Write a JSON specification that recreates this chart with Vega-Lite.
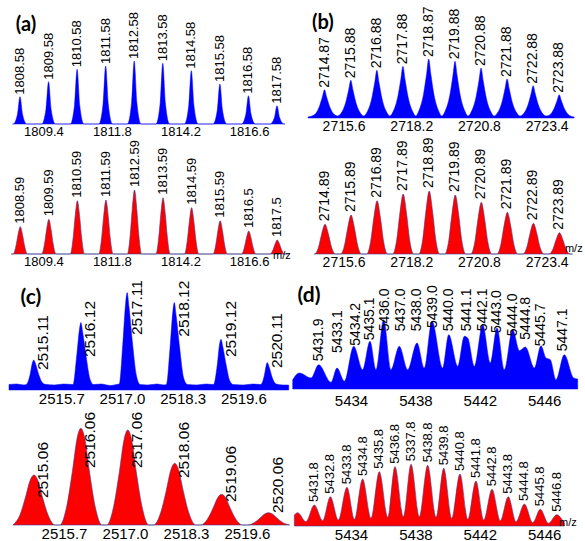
{
"$schema": "https://vega.github.io/schema/vega-lite/v6.json",
"padding": {"left": 8, "top": 0, "right": 0, "bottom": 0},
"background": "white",
"columns": 2,
"spacing": {"row": 16, "column": 0},
"bounds": "flush",
"datasets": {
"a1": [{"x":1808.32,"y":0},
{"x":1808.34,"y":0},{"x":1808.49,"y":9.6},{"x":1808.58,"y":27.3},{"x":1808.67,"y":9.6},{"x":1808.82,"y":0},
{"x":1809.34,"y":0},{"x":1809.49,"y":14.8},{"x":1809.58,"y":42.3},{"x":1809.67,"y":14.8},{"x":1809.82,"y":0},
{"x":1810.34,"y":0},{"x":1810.49,"y":19.1},{"x":1810.58,"y":54.7},{"x":1810.67,"y":19.1},{"x":1810.82,"y":0},
{"x":1811.34,"y":0},{"x":1811.49,"y":20.3},{"x":1811.58,"y":58},{"x":1811.67,"y":20.3},{"x":1811.82,"y":0},
{"x":1812.34,"y":0},{"x":1812.49,"y":22.1},{"x":1812.58,"y":63},{"x":1812.67,"y":22.1},{"x":1812.82,"y":0},
{"x":1813.34,"y":0},{"x":1813.49,"y":21.2},{"x":1813.58,"y":60.7},{"x":1813.67,"y":21.2},{"x":1813.82,"y":0},
{"x":1814.34,"y":0},{"x":1814.49,"y":18.7},{"x":1814.58,"y":53.3},{"x":1814.67,"y":18.7},{"x":1814.82,"y":0},
{"x":1815.34,"y":0},{"x":1815.49,"y":14},{"x":1815.58,"y":40},{"x":1815.67,"y":14},{"x":1815.82,"y":0},
{"x":1816.34,"y":0},{"x":1816.49,"y":9.9},{"x":1816.58,"y":28.3},{"x":1816.67,"y":9.9},{"x":1816.82,"y":0},
{"x":1817.34,"y":0},{"x":1817.49,"y":6.4},{"x":1817.58,"y":18.3},{"x":1817.67,"y":6.4},{"x":1817.82,"y":0},
{"x":1817.86,"y":0}],
"a1_pk": [{"x":1808.58,"y":27.3,"label":"1808.58"},{"x":1809.58,"y":42.3,"label":"1809.58"},{"x":1810.58,"y":54.7,"label":"1810.58"},{"x":1811.58,"y":58,"label":"1811.58"},{"x":1812.58,"y":63,"label":"1812.58"},{"x":1813.58,"y":60.7,"label":"1813.58"},{"x":1814.58,"y":53.3,"label":"1814.58"},{"x":1815.58,"y":40,"label":"1815.58"},{"x":1816.58,"y":28.3,"label":"1816.58"},{"x":1817.58,"y":18.3,"label":"1817.58"}],
"a2": [{"x":1808.27,"y":0},
{"x":1808.34,"y":0},{"x":1808.44,"y":8.2},{"x":1808.51,"y":19.1},{"x":1808.59,"y":27.3},{"x":1808.67,"y":19.1},{"x":1808.74,"y":8.2},{"x":1808.84,"y":0},
{"x":1809.34,"y":0},{"x":1809.44,"y":10.4},{"x":1809.51,"y":24.3},{"x":1809.59,"y":34.7},{"x":1809.67,"y":24.3},{"x":1809.74,"y":10.4},{"x":1809.84,"y":0},
{"x":1810.34,"y":0},{"x":1810.44,"y":16},{"x":1810.51,"y":37.3},{"x":1810.59,"y":53.3},{"x":1810.67,"y":37.3},{"x":1810.74,"y":16},{"x":1810.84,"y":0},
{"x":1811.34,"y":0},{"x":1811.44,"y":16.2},{"x":1811.51,"y":37.8},{"x":1811.59,"y":54},{"x":1811.67,"y":37.8},{"x":1811.74,"y":16.2},{"x":1811.84,"y":0},
{"x":1812.34,"y":0},{"x":1812.44,"y":19.2},{"x":1812.51,"y":44.8},{"x":1812.59,"y":64},{"x":1812.67,"y":44.8},{"x":1812.74,"y":19.2},{"x":1812.84,"y":0},
{"x":1813.34,"y":0},{"x":1813.44,"y":16.9},{"x":1813.51,"y":39.4},{"x":1813.59,"y":56.3},{"x":1813.67,"y":39.4},{"x":1813.74,"y":16.9},{"x":1813.84,"y":0},
{"x":1814.34,"y":0},{"x":1814.44,"y":13.9},{"x":1814.51,"y":32.4},{"x":1814.59,"y":46.3},{"x":1814.67,"y":32.4},{"x":1814.74,"y":13.9},{"x":1814.84,"y":0},
{"x":1815.34,"y":0},{"x":1815.44,"y":10},{"x":1815.51,"y":23.3},{"x":1815.59,"y":33.3},{"x":1815.67,"y":23.3},{"x":1815.74,"y":10},{"x":1815.84,"y":0},
{"x":1816.34,"y":0},{"x":1816.44,"y":6.9},{"x":1816.51,"y":16.1},{"x":1816.59,"y":23},{"x":1816.67,"y":16.1},{"x":1816.74,"y":6.9},{"x":1816.84,"y":0},
{"x":1817.34,"y":0},{"x":1817.44,"y":4.2},{"x":1817.51,"y":9.8},{"x":1817.59,"y":14},{"x":1817.67,"y":9.8},{"x":1817.74,"y":4.2},{"x":1817.84,"y":0},
{"x":1817.96,"y":0}],
"a2_pk": [{"x":1808.59,"y":27.3,"label":"1808.59"},{"x":1809.59,"y":34.7,"label":"1809.59"},{"x":1810.59,"y":53.3,"label":"1810.59"},{"x":1811.59,"y":54,"label":"1811.59"},{"x":1812.59,"y":64,"label":"1812.59"},{"x":1813.59,"y":56.3,"label":"1813.59"},{"x":1814.59,"y":46.3,"label":"1814.59"},{"x":1815.59,"y":33.3,"label":"1815.59"},{"x":1816.59,"y":23,"label":"1816.5"},{"x":1817.59,"y":14,"label":"1817.5"}],
"b1": [{"x":2714.24,"y":1},
{"x":2714.49,"y":3.4},{"x":2714.67,"y":11.3},{"x":2714.79,"y":21.2},{"x":2714.87,"y":28.3},{"x":2714.95,"y":21.2},{"x":2715.07,"y":11.3},{"x":2715.25,"y":3.4},
{"x":2715.37,"y":2},
{"x":2715.5,"y":4.5},{"x":2715.68,"y":15.1},{"x":2715.8,"y":28.3},{"x":2715.88,"y":37.7},{"x":2715.96,"y":28.3},{"x":2716.08,"y":15.1},{"x":2716.26,"y":4.5},
{"x":2716.38,"y":2},
{"x":2716.5,"y":5.7},{"x":2716.68,"y":19.1},{"x":2716.8,"y":35.8},{"x":2716.88,"y":47.7},{"x":2716.96,"y":35.8},{"x":2717.08,"y":19.1},{"x":2717.26,"y":5.7},
{"x":2717.38,"y":2},
{"x":2717.5,"y":6.2},{"x":2717.68,"y":20.7},{"x":2717.8,"y":38.8},{"x":2717.88,"y":51.7},{"x":2717.96,"y":38.8},{"x":2718.08,"y":20.7},{"x":2718.26,"y":6.2},
{"x":2718.37,"y":2},
{"x":2718.49,"y":7.1},{"x":2718.67,"y":23.6},{"x":2718.79,"y":44.3},{"x":2718.87,"y":59},{"x":2718.95,"y":44.3},{"x":2719.07,"y":23.6},{"x":2719.25,"y":7.1},
{"x":2719.37,"y":2},
{"x":2719.5,"y":6.8},{"x":2719.68,"y":22.7},{"x":2719.8,"y":42.5},{"x":2719.88,"y":56.7},{"x":2719.96,"y":42.5},{"x":2720.08,"y":22.7},{"x":2720.26,"y":6.8},
{"x":2720.38,"y":2},
{"x":2720.5,"y":6},{"x":2720.68,"y":20},{"x":2720.8,"y":37.5},{"x":2720.88,"y":50},{"x":2720.96,"y":37.5},{"x":2721.08,"y":20},{"x":2721.26,"y":6},
{"x":2721.38,"y":2},
{"x":2721.5,"y":4.7},{"x":2721.68,"y":15.6},{"x":2721.8,"y":29.3},{"x":2721.88,"y":39},{"x":2721.96,"y":29.3},{"x":2722.08,"y":15.6},{"x":2722.26,"y":4.7},
{"x":2722.38,"y":2},
{"x":2722.5,"y":3.9},{"x":2722.68,"y":12.9},{"x":2722.8,"y":24.2},{"x":2722.88,"y":32.3},{"x":2722.96,"y":24.2},{"x":2723.08,"y":12.9},{"x":2723.26,"y":3.9},
{"x":2723.38,"y":2},
{"x":2723.5,"y":2.8},{"x":2723.68,"y":9.3},{"x":2723.8,"y":17.5},{"x":2723.88,"y":23.3},{"x":2723.96,"y":17.5},{"x":2724.08,"y":9.3},{"x":2724.26,"y":2.8},
{"x":2724.45,"y":1}],
"b1_pk": [{"x":2714.87,"y":28.3,"label":"2714.87"},{"x":2715.88,"y":37.7,"label":"2715.88"},{"x":2716.88,"y":47.7,"label":"2716.88"},{"x":2717.88,"y":51.7,"label":"2717.88"},{"x":2718.87,"y":59,"label":"2718.87"},{"x":2719.88,"y":56.7,"label":"2719.88"},{"x":2720.88,"y":50,"label":"2720.88"},{"x":2721.88,"y":39,"label":"2721.88"},{"x":2722.88,"y":32.3,"label":"2722.88"},{"x":2723.88,"y":23.3,"label":"2723.88"}],
"b2": [{"x":2714.47,"y":0},
{"x":2714.49,"y":0},{"x":2714.64,"y":6.8},{"x":2714.76,"y":19.9},{"x":2714.89,"y":29.7},{"x":2715.02,"y":19.9},{"x":2715.14,"y":6.8},{"x":2715.29,"y":0},
{"x":2715.49,"y":0},{"x":2715.64,"y":9},{"x":2715.76,"y":26.1},{"x":2715.89,"y":39},{"x":2716.02,"y":26.1},{"x":2716.14,"y":9},{"x":2716.29,"y":0},
{"x":2716.49,"y":0},{"x":2716.64,"y":12.3},{"x":2716.76,"y":35.7},{"x":2716.89,"y":53.3},{"x":2717.02,"y":35.7},{"x":2717.14,"y":12.3},{"x":2717.29,"y":0},
{"x":2717.49,"y":0},{"x":2717.64,"y":13.8},{"x":2717.76,"y":40.2},{"x":2717.89,"y":60},{"x":2718.02,"y":40.2},{"x":2718.14,"y":13.8},{"x":2718.29,"y":0},
{"x":2718.49,"y":0},{"x":2718.64,"y":14.5},{"x":2718.76,"y":42.2},{"x":2718.89,"y":63},{"x":2719.02,"y":42.2},{"x":2719.14,"y":14.5},{"x":2719.29,"y":0},
{"x":2719.49,"y":0},{"x":2719.64,"y":13.6},{"x":2719.76,"y":39.5},{"x":2719.89,"y":59},{"x":2720.02,"y":39.5},{"x":2720.14,"y":13.6},{"x":2720.29,"y":0},
{"x":2720.49,"y":0},{"x":2720.64,"y":11.9},{"x":2720.76,"y":34.6},{"x":2720.89,"y":51.7},{"x":2721.02,"y":34.6},{"x":2721.14,"y":11.9},{"x":2721.29,"y":0},
{"x":2721.49,"y":0},{"x":2721.64,"y":9.6},{"x":2721.76,"y":27.9},{"x":2721.89,"y":41.7},{"x":2722.02,"y":27.9},{"x":2722.14,"y":9.6},{"x":2722.29,"y":0},
{"x":2722.49,"y":0},{"x":2722.64,"y":7.1},{"x":2722.76,"y":20.6},{"x":2722.89,"y":30.7},{"x":2723.02,"y":20.6},{"x":2723.14,"y":7.1},{"x":2723.29,"y":0},
{"x":2723.49,"y":0},{"x":2723.64,"y":4.9},{"x":2723.76,"y":14.3},{"x":2723.89,"y":21.3},{"x":2724.02,"y":14.3},{"x":2724.14,"y":4.9},{"x":2724.29,"y":0},
{"x":2724.39,"y":0}],
"b2_pk": [{"x":2714.89,"y":29.7,"label":"2714.89"},{"x":2715.89,"y":39,"label":"2715.89"},{"x":2716.89,"y":53.3,"label":"2716.89"},{"x":2717.89,"y":60,"label":"2717.89"},{"x":2718.89,"y":63,"label":"2718.89"},{"x":2719.89,"y":59,"label":"2719.89"},{"x":2720.89,"y":51.7,"label":"2720.89"},{"x":2721.89,"y":41.7,"label":"2721.89"},{"x":2722.89,"y":30.7,"label":"2722.89"},{"x":2723.89,"y":21.3,"label":"2723.89"}],
"c1": [{"x":2514.58,"y":5.5},{"x":2514.75,"y":6},{"x":2514.9,"y":5},
{"x":2514.95,"y":5.5},{"x":2515.03,"y":15},{"x":2515.08,"y":27},{"x":2515.11,"y":30},{"x":2515.15,"y":26},{"x":2515.22,"y":15},{"x":2515.3,"y":7},{"x":2515.38,"y":5.5},
{"x":2515.55,"y":5},{"x":2515.75,"y":6},
{"x":2515.95,"y":5.5},{"x":2516.03,"y":34},{"x":2516.09,"y":61},{"x":2516.12,"y":67.4},{"x":2516.16,"y":57},{"x":2516.23,"y":34},{"x":2516.32,"y":10},{"x":2516.39,"y":5.5},
{"x":2516.55,"y":6},{"x":2516.75,"y":4.5},{"x":2516.88,"y":5.5},
{"x":2516.94,"y":6},{"x":2517.02,"y":48},{"x":2517.08,"y":88},{"x":2517.11,"y":97.4},{"x":2517.15,"y":83},{"x":2517.22,"y":49},{"x":2517.31,"y":14},{"x":2517.39,"y":5.5},
{"x":2517.55,"y":5},{"x":2517.75,"y":6},{"x":2517.9,"y":5},
{"x":2517.95,"y":5.5},{"x":2518.03,"y":43},{"x":2518.09,"y":79},{"x":2518.12,"y":87.4},{"x":2518.16,"y":74},{"x":2518.23,"y":44},{"x":2518.32,"y":12},{"x":2518.4,"y":5.5},
{"x":2518.6,"y":5},{"x":2518.8,"y":6},
{"x":2518.96,"y":5.5},{"x":2519.04,"y":25},{"x":2519.09,"y":46},{"x":2519.12,"y":50.7},{"x":2519.16,"y":43},{"x":2519.23,"y":25},{"x":2519.31,"y":9},{"x":2519.38,"y":5.5},
{"x":2519.6,"y":5},{"x":2519.8,"y":6},
{"x":2519.97,"y":5.5},{"x":2520.05,"y":15},{"x":2520.09,"y":25},{"x":2520.11,"y":27.4},{"x":2520.15,"y":23},{"x":2520.22,"y":12},{"x":2520.3,"y":6},
{"x":2520.45,"y":5},{"x":2520.57,"y":5}],
"c1_pk": [{"x":2515.11,"y":20,"label":"2515.11"},{"x":2516.12,"y":33,"label":"2516.12"},{"x":2517.11,"y":55,"label":"2517.11"},{"x":2518.12,"y":53.3,"label":"2518.12"},{"x":2519.12,"y":33,"label":"2519.12"},{"x":2520.11,"y":22,"label":"2520.11"}],
"c2": [
{"x":2514.61,"y":0},{"x":2514.76,"y":10},{"x":2514.88,"y":28},{"x":2514.98,"y":45},{"x":2515.06,"y":50},{"x":2515.14,"y":45},{"x":2515.24,"y":28},{"x":2515.36,"y":10},{"x":2515.51,"y":0},
{"x":2515.61,"y":0},{"x":2515.76,"y":19.3},{"x":2515.88,"y":54.2},{"x":2515.98,"y":87},{"x":2516.06,"y":96.7},{"x":2516.14,"y":87},{"x":2516.24,"y":54.2},{"x":2516.36,"y":19.3},{"x":2516.51,"y":0},
{"x":2516.61,"y":0},{"x":2516.76,"y":19},{"x":2516.88,"y":53.2},{"x":2516.98,"y":85.5},{"x":2517.06,"y":95},{"x":2517.14,"y":85.5},{"x":2517.24,"y":53.2},{"x":2517.36,"y":19},{"x":2517.51,"y":0},
{"x":2517.61,"y":0},{"x":2517.76,"y":12.3},{"x":2517.88,"y":34.6},{"x":2517.98,"y":55.5},{"x":2518.06,"y":61.7},{"x":2518.14,"y":55.5},{"x":2518.24,"y":34.6},{"x":2518.36,"y":12.3},{"x":2518.51,"y":0},
{"x":2518.61,"y":0},{"x":2518.76,"y":6.1},{"x":2518.88,"y":17.2},{"x":2518.98,"y":27.6},{"x":2519.06,"y":30.7},{"x":2519.14,"y":27.6},{"x":2519.24,"y":17.2},{"x":2519.36,"y":6.1},{"x":2519.51,"y":0},
{"x":2519.61,"y":0},{"x":2519.76,"y":2.5},{"x":2519.88,"y":6.9},{"x":2519.98,"y":11.1},{"x":2520.06,"y":12.3},{"x":2520.14,"y":11.1},{"x":2520.24,"y":6.9},{"x":2520.36,"y":2.5},{"x":2520.51,"y":0}],
"c2_pk": [{"x":2515.06,"y":27,"label":"2515.06"},{"x":2516.06,"y":57,"label":"2516.06"},{"x":2517.06,"y":57,"label":"2517.06"},{"x":2518.06,"y":47,"label":"2518.06"},{"x":2519.06,"y":23,"label":"2519.06"},{"x":2520.06,"y":12,"label":"2520.06"}],
"d1": [{"x":5430.38,"y":9.3},{"x":5430.79,"y":16},{"x":5431.52,"y":11},{"x":5431.99,"y":24.3},{"x":5432.76,"y":6.7},{"x":5433.13,"y":21},{"x":5433.59,"y":7.7},{"x":5434.17,"y":42.7},{"x":5434.72,"y":19.3},{"x":5435.18,"y":47.7},{"x":5435.55,"y":19.3},{"x":5436.03,"y":69.3},{"x":5436.48,"y":19.3},{"x":5437.0,"y":42.7},{"x":5437.52,"y":19.3},{"x":5438.1,"y":46},{"x":5438.55,"y":21},{"x":5439.03,"y":67.7},{"x":5439.69,"y":21},{"x":5440.07,"y":54.3},{"x":5440.63,"y":22.7},{"x":5441.04,"y":52.7},{"x":5441.25,"y":51},{"x":5441.66,"y":22.7},{"x":5442.18,"y":64.3},{"x":5442.65,"y":26},{"x":5443.07,"y":61},{"x":5443.52,"y":19.3},{"x":5444.04,"y":59.3},{"x":5444.46,"y":38.3},{"x":5444.83,"y":42},{"x":5445.39,"y":21},{"x":5445.8,"y":43.3},{"x":5446.11,"y":31},{"x":5446.38,"y":29.3},{"x":5446.73,"y":9.3},{"x":5447.25,"y":34.3},{"x":5447.83,"y":11},{"x":5448.08,"y":10}],
"d1_pk": [{"x":5431.9,"y":27.7,"label":"5431.9"},{"x":5433.1,"y":36,"label":"5433.1"},{"x":5434.2,"y":43.3,"label":"5434.2"},{"x":5435.1,"y":48.7,"label":"5435.1"},{"x":5436.0,"y":57.7,"label":"5436.0"},{"x":5437.0,"y":57.7,"label":"5437.0"},{"x":5438.0,"y":57.7,"label":"5438.0"},{"x":5439.0,"y":61,"label":"5439.0"},{"x":5440.0,"y":57.7,"label":"5440.0"},{"x":5441.1,"y":57.7,"label":"5441.1"},{"x":5442.1,"y":57.7,"label":"5442.1"},{"x":5443.0,"y":56,"label":"5443.0"},{"x":5444.0,"y":52.7,"label":"5444.0"},{"x":5444.8,"y":49.3,"label":"5444.8"},{"x":5445.7,"y":42.7,"label":"5445.7"},{"x":5447.1,"y":37.7,"label":"5447.1"}],
"d2": [{"x":5430.48,"y":11},{"x":5430.69,"y":13.3},{"x":5431.2,"y":4.3},{"x":5431.72,"y":21},{"x":5432.24,"y":5.3},{"x":5432.72,"y":29.3},{"x":5433.21,"y":6},{"x":5433.75,"y":38.7},{"x":5434.21,"y":6.7},{"x":5434.72,"y":47},{"x":5435.24,"y":7.7},{"x":5435.76,"y":54.3},{"x":5436.28,"y":8.7},{"x":5436.73,"y":59.3},{"x":5437.25,"y":9.3},{"x":5437.73,"y":61.7},{"x":5438.24,"y":9.3},{"x":5438.76,"y":60.7},{"x":5439.28,"y":8.7},{"x":5439.76,"y":57.7},{"x":5440.25,"y":7.7},{"x":5440.77,"y":52},{"x":5441.25,"y":6.7},{"x":5441.76,"y":45},{"x":5442.24,"y":6},{"x":5442.76,"y":36.7},{"x":5443.27,"y":5.3},{"x":5443.77,"y":29.3},{"x":5444.25,"y":4.3},{"x":5444.77,"y":22},{"x":5445.29,"y":3.3},{"x":5445.76,"y":16.7},{"x":5446.26,"y":2.7},{"x":5446.78,"y":11.3},{"x":5447.25,"y":2.7}],
"d2_pk": [{"x":5431.72,"y":21,"label":"5431.8"},{"x":5432.72,"y":29.3,"label":"5432.8"},{"x":5433.75,"y":38.7,"label":"5433.8"},{"x":5434.72,"y":47,"label":"5434.8"},{"x":5435.76,"y":54.3,"label":"5435.8"},{"x":5436.73,"y":59.3,"label":"5436.8"},{"x":5437.73,"y":61.7,"label":"5337.8"},{"x":5438.76,"y":60.7,"label":"5438.8"},{"x":5439.76,"y":57.7,"label":"5439.8"},{"x":5440.77,"y":52,"label":"5440.8"},{"x":5441.76,"y":45,"label":"5441.8"},{"x":5442.76,"y":36.7,"label":"5442.8"},{"x":5443.77,"y":29.3,"label":"5443.8"},{"x":5444.77,"y":22,"label":"5444.8"},{"x":5445.76,"y":16.7,"label":"5445.8"},{"x":5446.78,"y":11.3,"label":"5446.8"}]
},
"concat": [
{"width": 282, "height": 124, "layer": [
 {"data": {"name": "a1"}, "mark": {"type": "area", "interpolate": "monotone", "fill": "#0000ff", "stroke": "#0000ff", "strokeWidth": 0.5},
  "encoding": {"x": {"field": "x", "type": "quantitative", "scale": {"domain": [1808.195, 1818.07], "nice": false, "zero": false}, "axis": {"values": [1809.4, 1811.8, 1814.2, 1816.6], "format": ".1f", "labelFontSize": 13, "title": null}},
   "y": {"field": "y", "type": "quantitative", "scale": {"domain": [0, 124], "nice": false}, "axis": null}}},
 {"data": {"name": "a1_pk"}, "mark": {"type": "text", "angle": 270, "align": "left", "baseline": "middle", "dx": 2, "fontSize": 13},
  "encoding": {"x": {"field": "x", "type": "quantitative"}, "y": {"field": "y", "type": "quantitative"}, "text": {"field": "label"}}},
 {"data": {"values": [{"t": "(a)"}]}, "mark": {"type": "text", "font": "Lato", "fontWeight": "bold", "fontSize": 20},
  "encoding": {"x": {"datum": 1808.79, "type": "quantitative"}, "y": {"datum": 99, "type": "quantitative"}, "text": {"field": "t"}}}
]},
{"width": 290, "height": 118, "layer": [
 {"data": {"name": "b1"}, "mark": {"type": "area", "interpolate": "monotone", "fill": "#0000ff", "stroke": "#0000ff", "strokeWidth": 0.5},
  "encoding": {"x": {"field": "x", "type": "quantitative", "scale": {"domain": [2713.584, 2724.716], "nice": false, "zero": false}, "axis": {"values": [2715.6, 2718.2, 2720.8, 2723.4], "format": ".1f", "labelFontSize": 14, "title": null}},
   "y": {"field": "y", "type": "quantitative", "scale": {"domain": [0, 118], "nice": false}, "axis": null}}},
 {"data": {"name": "b1_pk"}, "mark": {"type": "text", "angle": 270, "align": "left", "baseline": "middle", "dx": 2, "fontSize": 14},
  "encoding": {"x": {"field": "x", "type": "quantitative"}, "y": {"field": "y", "type": "quantitative"}, "text": {"field": "label"}}},
 {"data": {"values": [{"t": "(b)"}]}, "mark": {"type": "text", "font": "Lato", "fontWeight": "bold", "fontSize": 20},
  "encoding": {"x": {"datum": 2714.81, "type": "quantitative"}, "y": {"datum": 95, "type": "quantitative"}, "text": {"field": "t"}}}
]},
{"width": 282, "height": 114, "layer": [
 {"data": {"name": "a2"}, "mark": {"type": "area", "interpolate": "monotone", "fill": "#ff0000", "stroke": "#3c3c8c", "strokeWidth": 0.6},
  "encoding": {"x": {"field": "x", "type": "quantitative", "scale": {"domain": [1808.195, 1818.07], "nice": false, "zero": false}, "axis": {"values": [1809.4, 1811.8, 1814.2, 1816.6], "format": ".1f", "labelFontSize": 13, "title": null}},
   "y": {"field": "y", "type": "quantitative", "scale": {"domain": [0, 114], "nice": false}, "axis": null}}},
 {"data": {"name": "a2_pk"}, "mark": {"type": "text", "angle": 270, "align": "left", "baseline": "middle", "dx": 3, "fontSize": 13},
  "encoding": {"x": {"field": "x", "type": "quantitative"}, "y": {"field": "y", "type": "quantitative"}, "text": {"field": "label"}}},
 {"data": {"values": [{"t": "m/z"}]}, "mark": {"type": "text", "align": "left", "baseline": "middle", "fontSize": 11},
  "encoding": {"x": {"datum": 1817.44, "type": "quantitative"}, "y": {"datum": -2, "type": "quantitative"}, "text": {"field": "t"}}}
]},
{"width": 290, "height": 114, "layer": [
 {"data": {"name": "b2"}, "mark": {"type": "area", "interpolate": "monotone", "fill": "#ff0000", "stroke": "#3c3c8c", "strokeWidth": 0.6},
  "encoding": {"x": {"field": "x", "type": "quantitative", "scale": {"domain": [2713.584, 2724.716], "nice": false, "zero": false}, "axis": {"values": [2715.6, 2718.2, 2720.8, 2723.4], "format": ".1f", "labelFontSize": 14, "title": null}},
   "y": {"field": "y", "type": "quantitative", "scale": {"domain": [0, 114], "nice": false}, "axis": null}}},
 {"data": {"name": "b2_pk"}, "mark": {"type": "text", "angle": 270, "align": "left", "baseline": "middle", "dx": 3, "fontSize": 14},
  "encoding": {"x": {"field": "x", "type": "quantitative"}, "y": {"field": "y", "type": "quantitative"}, "text": {"field": "label"}}},
 {"data": {"values": [{"t": "m/z"}]}, "mark": {"type": "text", "align": "left", "baseline": "middle", "fontSize": 11},
  "encoding": {"x": {"datum": 2724.1, "type": "quantitative"}, "y": {"datum": 5, "type": "quantitative"}, "text": {"field": "t"}}}
]},
{"width": 282, "height": 120, "layer": [
 {"data": {"name": "c1"}, "mark": {"type": "area", "interpolate": "monotone", "fill": "#0000ff", "stroke": "#0000ff", "strokeWidth": 0.5},
  "encoding": {"x": {"field": "x", "type": "quantitative", "scale": {"domain": [2514.58, 2520.619], "nice": false, "zero": false}, "axis": {"values": [2515.7, 2517.0, 2518.3, 2519.6], "format": ".1f", "labelFontSize": 15, "title": null}},
   "y": {"field": "y", "type": "quantitative", "scale": {"domain": [0, 120], "nice": false}, "axis": null}}},
 {"data": {"name": "c1_pk"}, "mark": {"type": "text", "angle": 270, "align": "left", "baseline": "middle", "dy": 9.5, "fontSize": 15.5},
  "encoding": {"x": {"field": "x", "type": "quantitative"}, "y": {"field": "y", "type": "quantitative"}, "text": {"field": "label"}}},
 {"data": {"values": [{"t": "(c)"}]}, "mark": {"type": "text", "font": "Lato", "fontWeight": "bold", "fontSize": 21},
  "encoding": {"x": {"datum": 2515.05, "type": "quantitative"}, "y": {"datum": 92, "type": "quantitative"}, "text": {"field": "t"}}}
]},
{"width": 290, "height": 119, "layer": [
 {"data": {"name": "d1"}, "mark": {"type": "area", "interpolate": "monotone", "fill": "#0000ff", "stroke": "#0000ff", "strokeWidth": 0.5},
  "encoding": {"x": {"field": "x", "type": "quantitative", "scale": {"domain": [5430.273, 5448.286], "nice": false, "zero": false}, "axis": {"values": [5434, 5438, 5442, 5446], "format": "d", "labelFontSize": 15, "labelPadding": 4, "title": null}},
   "y": {"field": "y", "type": "quantitative", "scale": {"domain": [0, 119], "nice": false}, "axis": null}}},
 {"data": {"name": "d1_pk"}, "mark": {"type": "text", "angle": 270, "align": "left", "baseline": "middle", "dy": 1.5, "fontSize": 14},
  "encoding": {"x": {"field": "x", "type": "quantitative"}, "y": {"field": "y", "type": "quantitative"}, "text": {"field": "label"}}},
 {"data": {"values": [{"t": "(d)"}]}, "mark": {"type": "text", "font": "Lato", "fontWeight": "bold", "fontSize": 21},
  "encoding": {"x": {"datum": 5431.39, "type": "quantitative"}, "y": {"datum": 93, "type": "quantitative"}, "text": {"field": "t"}}}
]},
{"width": 282, "height": 119, "layer": [
 {"data": {"name": "c2"}, "mark": {"type": "area", "interpolate": "monotone", "fill": "#ff0000", "stroke": "#3c3c8c", "strokeWidth": 0.6},
  "encoding": {"x": {"field": "x", "type": "quantitative", "scale": {"domain": [2514.527, 2520.539], "nice": false, "zero": false}, "axis": {"values": [2515.7, 2517.0, 2518.3, 2519.6], "format": ".1f", "labelFontSize": 15, "title": null}},
   "y": {"field": "y", "type": "quantitative", "scale": {"domain": [0, 119], "nice": false}, "axis": null}}},
 {"data": {"name": "c2_pk"}, "mark": {"type": "text", "angle": 270, "align": "left", "baseline": "middle", "dy": 9, "fontSize": 15.5},
  "encoding": {"x": {"field": "x", "type": "quantitative"}, "y": {"field": "y", "type": "quantitative"}, "text": {"field": "label"}}}
]},
{"width": 290, "height": 120, "layer": [
 {"data": {"name": "d2"}, "mark": {"type": "area", "interpolate": "monotone", "fill": "#ff0000", "stroke": "#3c3c8c", "strokeWidth": 0.6},
  "encoding": {"x": {"field": "x", "type": "quantitative", "scale": {"domain": [5430.273, 5448.286], "nice": false, "zero": false}, "axis": {"values": [5434, 5438, 5442, 5446], "format": "d", "labelFontSize": 15, "title": null}},
   "y": {"field": "y", "type": "quantitative", "scale": {"domain": [0, 120], "nice": false}, "axis": null}}},
 {"data": {"name": "d2_pk"}, "mark": {"type": "text", "angle": 270, "align": "left", "baseline": "middle", "dx": 3, "fontSize": 13},
  "encoding": {"x": {"field": "x", "type": "quantitative"}, "y": {"field": "y", "type": "quantitative"}, "text": {"field": "label"}}},
 {"data": {"values": [{"t": "m/z"}]}, "mark": {"type": "text", "align": "left", "baseline": "middle", "fontSize": 11},
  "encoding": {"x": {"datum": 5446.92, "type": "quantitative"}, "y": {"datum": 3, "type": "quantitative"}, "text": {"field": "t"}}}
]}
],
"config": {
 "view": {"stroke": null},
 "axis": {"grid": false, "ticks": false, "domain": false, "labelFont": "Liberation Sans", "labelColor": "#000000", "labelPadding": 1, "labelFlush": false, "labelOverlap": false},
 "text": {"font": "Liberation Sans", "color": "#000000"}
}
}
